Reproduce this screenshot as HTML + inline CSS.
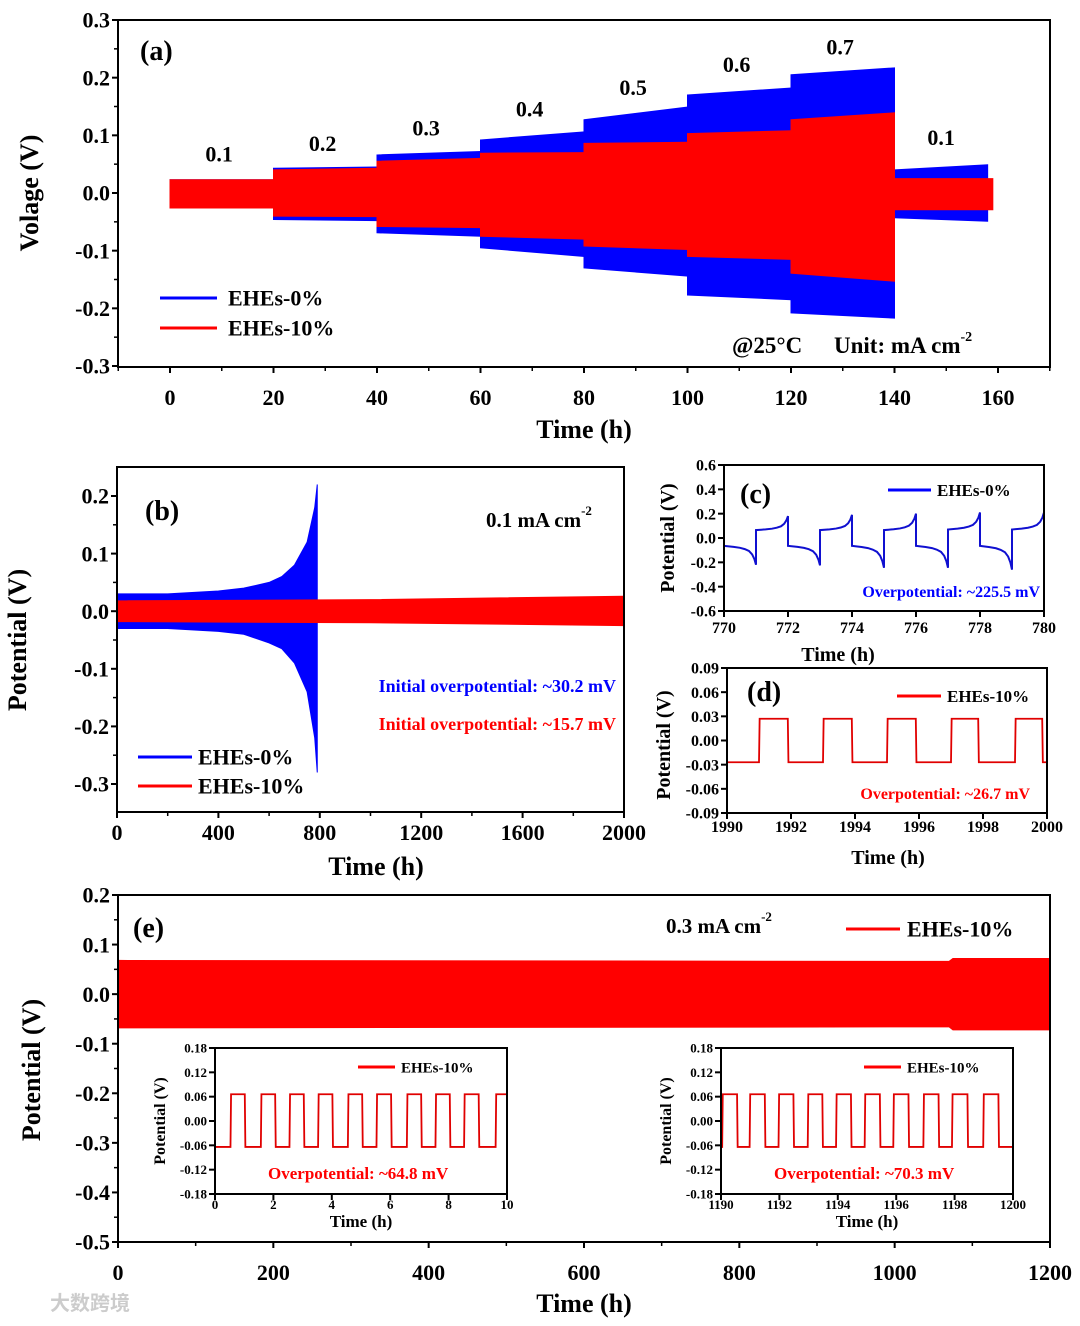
<!DOCTYPE html>
<html><head><meta charset="utf-8"><style>
html,body{margin:0;padding:0;background:#fff}
svg text{font-family:"Liberation Serif",serif;font-weight:bold}
</style></head><body>
<svg id="fig" xmlns="http://www.w3.org/2000/svg" width="1080" height="1321" viewBox="0 0 1080 1321"></svg>
<script>
// ---- Panel a data ----
const aSegStart=[0,20,40,60,80,100,120,140];
const aSegEnd=[20,40,60,80,100,120,140,158];
const aBlueTopS=[0.023,0.043,0.066,0.092,0.127,0.170,0.205,0.040];
const aBlueTopE=[0.023,0.045,0.072,0.106,0.149,0.182,0.217,0.049];
const aBlueBotS=[-0.026,-0.046,-0.069,-0.095,-0.130,-0.177,-0.208,-0.043];
const aBlueBotE=[-0.026,-0.048,-0.075,-0.110,-0.144,-0.185,-0.217,-0.049];
const aRedTopS=[0.023,0.040,0.055,0.069,0.086,0.103,0.127,0.025];
const aRedTopE=[0.023,0.043,0.060,0.070,0.088,0.108,0.139,0.025];
const aRedBotS=[-0.026,-0.040,-0.058,-0.075,-0.092,-0.110,-0.139,-0.029];
const aRedBotE=[-0.026,-0.041,-0.060,-0.080,-0.098,-0.115,-0.153,-0.029];
const aCurrent=["0.1","0.2","0.3","0.4","0.5","0.6","0.7","0.1"];
const aCurrentY=[0.055,0.073,0.1,0.133,0.17,0.21,0.24,0.083];
// ---- Panel b data ----
const bBlueT=[0,200,400,500,600,650,700,750,780,790];
const bBlueTop=[0.03,0.03,0.035,0.04,0.05,0.06,0.08,0.12,0.18,0.22];
const bBlueBot=[-0.03,-0.03,-0.035,-0.04,-0.055,-0.065,-0.09,-0.14,-0.22,-0.28];
const bRedT=[0,1000,2000];
const bRedTop=[0.018,0.02,0.026];
const bRedBot=[-0.018,-0.02,-0.025];
// ---- Panel c data ----
const cCycleStart=[770,772,774,776,778];
const cLowStart=[-0.065,-0.065,-0.065,-0.065,-0.065];
const cLowEnd=[-0.22,-0.225,-0.245,-0.245,-0.26];
const cHighStart=[0.065,0.065,0.065,0.07,0.07];
const cHighEnd=[0.18,0.19,0.2,0.21,0.21];
const cShapeU=[0,0.3,0.5,0.65,0.78,0.88,0.95,1];
const cShapeF=[0,0.05,0.1,0.17,0.27,0.45,0.7,1];
// ---- Panel d data ----
const dRise=[1991,1993,1995,1997,1999];
const dFall=[1991.9,1993.9,1995.9,1997.85,1999.85];
const dHigh=0.027, dLow=-0.027;
// ---- Panel e data ----
const eT=[0,1070,1075,1200];
const eTop=[0.068,0.066,0.072,0.072];
const eBot=[-0.068,-0.066,-0.072,-0.072];
const i1Rise=[0.53,1.57,2.55,3.53,4.55,5.53,6.57,7.55,8.53,9.61];
const i1Fall=[1.02,2.06,3.04,4.02,5.04,6.03,7.06,8.04,9.03,10];
const i2Rise=[1190.04,1190.98,1191.97,1192.97,1193.94,1194.92,1195.9,1196.93,1197.91,1198.98];
const i2Fall=[1190.55,1191.5,1192.48,1193.47,1194.45,1195.44,1196.42,1197.45,1198.44,1199.5];
const iHigh=0.066, iLow=-0.064;

const NS="http://www.w3.org/2000/svg";
const svg=document.getElementById('fig');
function el(tag,attrs,parent,txt){const e=document.createElementNS(NS,tag);for(const k in attrs)e.setAttribute(k,attrs[k]);if(txt!==undefined)e.textContent=txt;(parent||svg).appendChild(e);return e;}
function scale(d0,d1,r0,r1){return v=>r0+(v-d0)/(d1-d0)*(r1-r0);}
function txt(x,y,s,size,opts,parent){opts=opts||{};const t=el('text',{x:x,y:y,'font-size':size,'text-anchor':opts.anchor||'middle'},parent,s);t.setAttribute('style','fill:'+(opts.fill||'#000'));if(opts.rot)t.setAttribute('transform','rotate(-90 '+x+' '+y+')');return t;}
function sup(t,s,size){const ts=el('tspan',{'font-size':size,dy:-12},t,s);return ts;}
function axes(g,box,xt,xlab,yt,ylab,fs,minorX,minorY,sx,sy,xoff){
  xoff=xoff||6;
  el('rect',{x:box[0],y:box[1],width:box[2]-box[0],height:box[3]-box[1],fill:'none',stroke:'#000','stroke-width':2},g);
  xt.forEach((v,i)=>{const x=sx(v);el('line',{x1:x,y1:box[3],x2:x,y2:box[3]+6,stroke:'#000','stroke-width':2},g);
    const t=txt(x,box[3]+fs+xoff,xlab[i],fs,{},g);});
  minorX.forEach(v=>{const x=sx(v);el('line',{x1:x,y1:box[3],x2:x,y2:box[3]+4,stroke:'#000','stroke-width':1.5},g);});
  yt.forEach((v,i)=>{const y=sy(v);el('line',{x1:box[0]-6,y1:y,x2:box[0],y2:y,stroke:'#000','stroke-width':2},g);
    const t=txt(box[0]-8,y+fs*0.35,ylab[i],fs,{anchor:'end'},g);});
  minorY.forEach(v=>{const y=sy(v);el('line',{x1:box[0]-4,y1:y,x2:box[0],y2:y,stroke:'#000','stroke-width':1.5},g);});
}
function group(name){const g=el('g',{});return g;}
function band(g,ts,tops,bots,sx,sy,color,name){
  let pts=ts.map((t,i)=>sx(t)+','+sy(tops[i]));
  for(let i=ts.length-1;i>=0;i--)pts.push(sx(ts[i])+','+sy(bots[i]));
  const p=el('polygon',{points:pts.join(' '),fill:color,stroke:color,'stroke-width':1},g);
  return p;
}
function legendLine(g,x1,x2,y,color,label,fs,tx){
  const l=el('line',{x1:x1,y1:y,x2:x2,y2:y,stroke:color,'stroke-width':3},g);
  
  const t=txt(tx,y+fs*0.35,label,fs,{anchor:'start'},g);
  
}

// ===== Panel a =====
(function(){
  const g=group('panel-a');
  const box=[118,20,1050,367];
  const sx=scale(0,160,170,998), sy=scale(-0.3,0.3,366,20);
  for(let i=0;i<aSegStart.length;i++){
    band(g,[aSegStart[i],aSegEnd[i]],[aBlueTopS[i],aBlueTopE[i]],[aBlueBotS[i],aBlueBotE[i]],sx,sy,'#0000ff','blue-band-segment');
  }
  for(let i=0;i<aSegStart.length;i++){
    const e=i===aSegStart.length-1?aSegEnd[i]+1:aSegEnd[i];
    band(g,[aSegStart[i],e],[aRedTopS[i],aRedTopE[i]],[aRedBotS[i],aRedBotE[i]],sx,sy,'#ff0000','red-band-segment');
  }
  aCurrent.forEach((c,i)=>{const t=txt(sx((aSegStart[i]+aSegEnd[i])/2+(i==7?0:-0.5)),sy(aCurrentY[i]),c,22,{},g);});
  const xt=[0,20,40,60,80,100,120,140,160];
  const mx=[-10,10,30,50,70,90,110,130,150,170];
  const yt=[0.3,0.2,0.1,0,-0.1,-0.2,-0.3];
  const my=[0.25,0.15,0.05,-0.05,-0.15,-0.25];
  axes(g,box,xt,xt.map(String),yt,["0.3","0.2","0.1","0.0","-0.1","-0.2","-0.3"],22,mx,my,sx,sy,16);
  let t=txt(584,438,'Time (h)',26,{},g);
  t=txt(38,193,'Volage (V)',26,{rot:1},g);
  t=txt(140,60,'(a)',28,{anchor:'start'},g);
  legendLine(g,160,217,298,'#0000ff','EHEs-0%',22,228);
  legendLine(g,160,217,328,'#ff0000','EHEs-10%',22,228);
  t=txt(732,353,'@25°C',23,{anchor:'start'},g);
  t=txt(834,353,'Unit: mA cm',23,{anchor:'start'},g);
  sup(t,'-2',14);
})();

// ===== Panel b =====
(function(){
  const g=group('panel-b');
  const box=[117,467,624,812];
  const sx=scale(0,2000,117,624), sy=scale(-0.3,0.2,784,496);
  band(g,bBlueT,bBlueTop,bBlueBot,sx,sy,'#0000ff','blue-band');
  band(g,bRedT,bRedTop,bRedBot,sx,sy,'#ff0000','red-band');
  const xt=[0,400,800,1200,1600,2000];
  const mx=[200,600,1000,1400,1800];
  const yt=[0.2,0.1,0,-0.1,-0.2,-0.3];
  const my=[0.15,0.05,-0.05,-0.15,-0.25];
  axes(g,box,xt,xt.map(String),yt,["0.2","0.1","0.0","-0.1","-0.2","-0.3"],22,mx,my,sx,sy,6);
  let t=txt(376,875,'Time (h)',26,{},g);
  t=txt(26,640,'Potential (V)',26,{rot:1},g);
  t=txt(145,520,'(b)',28,{anchor:'start'},g);
  t=txt(486,527,'0.1 mA cm',21,{anchor:'start'},g);
  sup(t,'-2',13);
  t=txt(616,692,'Initial overpotential: ~30.2 mV',18,{anchor:'end',fill:'#0000ff'},g);
  t=txt(616,730,'Initial overpotential: ~15.7 mV',18,{anchor:'end',fill:'#ff0000'},g);
  legendLine(g,138,192,757,'#0000ff','EHEs-0%',22,198);
  legendLine(g,138,192,786,'#ff0000','EHEs-10%',22,198);
})();

// ===== Panel c =====
(function(){
  const g=group('panel-c');
  const box=[724,465,1044,611];
  const sx=scale(770,780,724,1044), sy=scale(-0.6,0.6,611,465);
  let pts=[];
  cCycleStart.forEach((t0,k)=>{
    cShapeU.forEach((u,j)=>{pts.push(sx(t0+u)+','+sy(cLowStart[k]+(cLowEnd[k]-cLowStart[k])*cShapeF[j]));});
    cShapeU.forEach((u,j)=>{pts.push(sx(t0+1+u)+','+sy(cHighStart[k]+(cHighEnd[k]-cHighStart[k])*cShapeF[j]));});
  });
  const p=el('polyline',{points:pts.join(' '),fill:'none',stroke:'#1010d0','stroke-width':2},g);
  
  const xt=[770,772,774,776,778,780];
  const yt=[0.6,0.4,0.2,0,-0.2,-0.4,-0.6];
  axes(g,box,xt,xt.map(String),yt,["0.6","0.4","0.2","0.0","-0.2","-0.4","-0.6"],16,[],[],sx,sy,6);
  let t=txt(838,661,'Time (h)',20,{},g);
  t=txt(674,538,'Potential (V)',20,{rot:1},g);
  t=txt(740,503,'(c)',28,{anchor:'start'},g);
  legendLine(g,888,931,490,'#0000ff','EHEs-0%',17,937);
  t=txt(1040,597,'Overpotential: ~225.5 mV',16,{anchor:'end',fill:'#0000ff'},g);
})();

function squareWave(g,sx,sy,t0,t1,rise,fall,hi,lo,startHigh,name){
  let pts=[];let lvl=startHigh?hi:lo;pts.push(sx(t0)+','+sy(lvl));
  const ev=[];rise.forEach(r=>ev.push([r,hi]));fall.forEach(f=>ev.push([f,lo]));ev.sort((a,b)=>a[0]-b[0]);
  ev.forEach(e=>{if(e[0]>=t1)return;pts.push(sx(e[0])+','+sy(lvl));lvl=e[1];pts.push(sx(e[0]+0.02*(t1-t0)/10)+','+sy(lvl));});
  pts.push(sx(t1)+','+sy(lvl));
  const p=el('polyline',{points:pts.join(' '),fill:'none',stroke:'#e00000','stroke-width':1.8},g);
  
}

// ===== Panel d =====
(function(){
  const g=group('panel-d');
  const box=[727,668,1047,813];
  const sx=scale(1990,2000,727,1047), sy=scale(-0.09,0.09,813,668);
  squareWave(g,sx,sy,1990,2000,dRise,dFall,dHigh,dLow,false,'voltage-trace');
  const xt=[1990,1992,1994,1996,1998,2000];
  const yt=[0.09,0.06,0.03,0,-0.03,-0.06,-0.09];
  axes(g,box,xt,xt.map(String),yt,["0.09","0.06","0.03","0.00","-0.03","-0.06","-0.09"],16,[],[],sx,sy,3);
  let t=txt(888,864,'Time (h)',20,{},g);
  t=txt(670,745,'Potential (V)',20,{rot:1},g);
  t=txt(747,701,'(d)',28,{anchor:'start'},g);
  legendLine(g,897,941,696,'#ff0000','EHEs-10%',17,947);
  t=txt(1030,799,'Overpotential: ~26.7 mV',16,{anchor:'end',fill:'#ff0000'},g);
})();

// ===== Panel e =====
(function(){
  const g=group('panel-e');
  const box=[118,895,1050,1242];
  const sx=scale(0,1200,118,1050), sy=scale(-0.5,0.2,1242,895);
  band(g,eT,eTop,eBot,sx,sy,'#ff0000','red-band');
  const xt=[0,200,400,600,800,1000,1200];
  const mx=[100,300,500,700,900,1100];
  const yt=[0.2,0.1,0,-0.1,-0.2,-0.3,-0.4,-0.5];
  const my=[0.15,0.05,-0.05,-0.15,-0.25,-0.35,-0.45];
  axes(g,box,xt,xt.map(String),yt,["0.2","0.1","0.0","-0.1","-0.2","-0.3","-0.4","-0.5"],22,mx,my,sx,sy,16);
  let t=txt(584,1312,'Time (h)',26,{},g);
  t=txt(40,1070,'Potential (V)',26,{rot:1},g);
  t=txt(133,937,'(e)',28,{anchor:'start'},g);
  t=txt(666,933,'0.3 mA cm',21,{anchor:'start'},g);
  sup(t,'-2',13);
  legendLine(g,846,900,929,'#ff0000','EHEs-10%',22,907);
  function inset(name,box,x0,x1,xt,rise,fall,startHigh,ann){
    const gi=group(name);
    const sxi=scale(x0,x1,box[0],box[2]), syi=scale(-0.18,0.18,box[3],box[1]);
    squareWave(gi,sxi,syi,x0,x1,rise,fall,iHigh,iLow,startHigh,'voltage-trace');
    const yt=[0.18,0.12,0.06,0,-0.12,-0.06,-0.18];
    axes(gi,box,xt,xt.map(String),yt,["0.18","0.12","0.06","0.00","-0.12","-0.06","-0.18"],13,[],[],sxi,syi,2);
    let t=txt((box[0]+box[2])/2,box[3]+33,'Time (h)',17,{},gi);
    t=txt(box[0]-50,(box[1]+box[3])/2,'Potential (V)',16,{rot:1},gi);
    legendLine(gi,box[0]+143,box[0]+180,box[1]+19,'#ff0000','EHEs-10%',15,box[0]+186);
    t=txt(box[0]+53,box[1]+131,ann,17,{anchor:'start',fill:'#ff0000'},gi);
  }
  inset('inset-start',[215,1048,507,1194],0,10,[0,2,4,6,8,10],i1Rise,i1Fall,false,'Overpotential: ~64.8 mV');
  inset('inset-end',[721,1048,1013,1194],1190,1200,[1190,1192,1194,1196,1198,1200],i2Rise,i2Fall,false,'Overpotential: ~70.3 mV');
})();
const wm=txt(50,1310,'大数跨境',20,{anchor:'start',fill:'#cccccc'});


wm.setAttribute('style','fill:#cccccc;font-family:"Liberation Sans","Noto Sans CJK SC",sans-serif');
</script>
</body></html>
